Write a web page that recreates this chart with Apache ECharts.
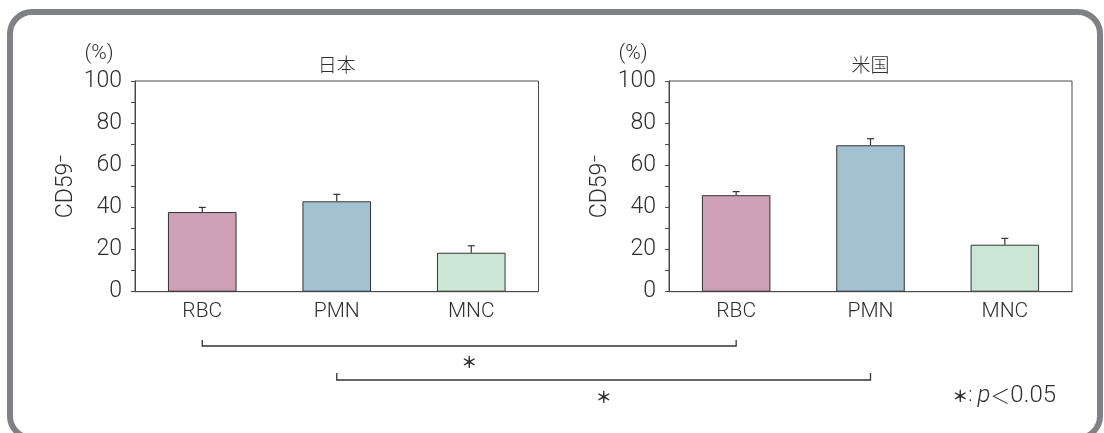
<!DOCTYPE html>
<html>
<head>
<meta charset="utf-8">
<script src="https://cdn.jsdelivr.net/npm/echarts@6/dist/echarts.min.js"></script>
<style>
  html, body { margin: 0; padding: 0; background: #fff; }
  #chart { width: 1104px; height: 433px; }
</style>
</head>
<body>
<div id="chart"></div>
<script>
// Cell types on the x axis
const categories = ['RBC', 'PMN', 'MNC'];
// CD59- cell ratio (%), mean and upper error (SD) per cell type
const japanValues = [37.8, 42.9, 18.5];
const japanErrors = [2.2, 3.3, 3.3];
const usValues = [45.8, 69.5, 22.3];
const usErrors = [1.7, 3.1, 3.0];
// Labelled y ticks (minor ticks every 10)
const yTickLabels = [0, 20, 40, 60, 80, 100];
const panelTitles = ['日本', '米国'];
const barColors = ['#cda0b5', '#a4c1d2', '#cce6d6'];

const FONT = 'Roboto, "Liberation Sans", Arial, sans-serif';
const W = 300;
const CJK = '"Noto Sans CJK JP", sans-serif';
const INK = '#2e2e2e';
const AXIS = '#4a4a4a';

const chart = echarts.init(document.getElementById('chart'), null, { renderer: 'canvas' });

const grids = [
  { left: 135, top: 81, width: 403.5, height: 210.7, show: true, borderColor: AXIS, borderWidth: 1, backgroundColor: 'transparent' },
  { left: 669, top: 81, width: 403, height: 210.7, show: true, borderColor: AXIS, borderWidth: 1, backgroundColor: 'transparent' }
];

function xAxisFor(i) {
  return {
    type: 'category', gridIndex: i, data: categories,
    axisLine: { lineStyle: { color: AXIS, width: 1 } },
    axisTick: { show: false },
    axisLabel: { color: INK, fontFamily: FONT, fontWeight: W, fontSize: 21, margin: 10 }
  };
}
function yAxisFor(i) {
  return {
    type: 'value', gridIndex: i, min: 0, max: 100, interval: 10,
    name: 'CD59⁻', nameLocation: 'middle', nameGap: 57, nameRotate: 90,
    nameTextStyle: { color: INK, fontFamily: FONT, fontWeight: W, fontSize: 23 },
    axisLine: { show: true, lineStyle: { color: AXIS, width: 1 } },
    axisTick: { show: true, inside: false, length: 4, lineStyle: { color: AXIS } },
    splitLine: { show: false },
    axisLabel: {
      color: INK, fontFamily: FONT, fontWeight: W, fontSize: 23, margin: 13,
      formatter: v => (yTickLabels.includes(v) ? String(v) : '')
    }
  };
}

function barSeries(i, values) {
  return {
    type: 'bar', xAxisIndex: i, yAxisIndex: i, barWidth: '51%',
    data: values.map((v, k) => ({ value: v, itemStyle: { color: barColors[k] } })),
    itemStyle: { borderColor: '#333', borderWidth: 1 },
    emphasis: { disabled: true }, z: 2
  };
}

function errorSeries(i, values, errors) {
  return {
    type: 'custom', xAxisIndex: i, yAxisIndex: i, z: 3,
    data: values.map((v, k) => [k, v, v + errors[k]]),
    renderItem: (params, api) => {
      const base = api.coord([api.value(0), api.value(1)]);
      const top = api.coord([api.value(0), api.value(2)]);
      const style = { stroke: '#333', lineWidth: 1.2 };
      return {
        type: 'group',
        children: [
          { type: 'line', shape: { x1: base[0], y1: base[1], x2: base[0], y2: top[1] }, style },
          { type: 'line', shape: { x1: base[0] - 3.5, y1: top[1], x2: base[0] + 3.5, y2: top[1] }, style }
        ]
      };
    }
  };
}

chart.setOption({
  animation: false,
  grid: grids,
  xAxis: [xAxisFor(0), xAxisFor(1)],
  yAxis: [yAxisFor(0), yAxisFor(1)],
  series: [
    barSeries(0, japanValues), errorSeries(0, japanValues, japanErrors),
    barSeries(1, usValues), errorSeries(1, usValues, usErrors)
  ]
});

// Annotations placed from the axes' own pixel positions
function px(axisIdx, cat) {
  return chart.convertToPixel({ xAxisIndex: axisIdx }, cat);
}
const gLeft = [135, 669];
const gCenter = [135 + 403.5 / 2, 669 + 403 / 2];

const graphics = [
  // rounded frame
  { type: 'rect', shape: { x: 10, y: 12, width: 1090, height: 426, r: 22 },
    style: { fill: 'none', stroke: '#808184', lineWidth: 6 }, z: 10 }
];

[0, 1].forEach(i => {
  graphics.push({ type: 'text', x: gLeft[i] - 36, y: 54,
    style: { text: '(%)', font: W + ' 21px ' + FONT, fill: INK, textAlign: 'center', textVerticalAlign: 'middle' } });
  graphics.push({ type: 'text', x: gCenter[i], y: 65,
    style: { text: panelTitles[i], font: '300 19px ' + CJK, fill: INK, textAlign: 'center', textVerticalAlign: 'middle' } });
});

// Significance brackets between the same cell type of both panels
const STAR = '＊';
const STAR_FONT = 'bold 16px ' + CJK;
const brackets = [
  { cat: 'RBC', y: 346, tick: 6, starY: 362 },
  { cat: 'PMN', y: 380, tick: 7, starY: 397 }
];
brackets.forEach(b => {
  const x1 = px(0, b.cat), x2 = px(1, b.cat);
  graphics.push({ type: 'polyline',
    shape: { points: [[x1, b.y - b.tick], [x1, b.y], [x2, b.y], [x2, b.y - b.tick]] },
    style: { stroke: '#333', lineWidth: 1.3, fill: 'none' } });
  graphics.push({ type: 'text', x: (x1 + x2) / 2, y: b.starY,
    style: { text: STAR, font: STAR_FONT, fill: INK, textAlign: 'center', textVerticalAlign: 'middle' } });
});

graphics.push({ type: 'text', x: 1056, y: 396,
  style: {
    text: '{s|' + STAR + '}{c|: }{p|p}{t|＜}{n|0.05}',
    textAlign: 'right', textVerticalAlign: 'middle',
    rich: {
      s: { font: STAR_FONT, fill: INK },
      c: { font: W + ' 20px ' + FONT, fill: INK },
      p: { font: 'italic ' + W + ' 24px ' + FONT, fill: INK },
      t: { font: '300 20px ' + CJK, fill: INK },
      n: { font: W + ' 24px ' + FONT, fill: INK }
    }
  } });

chart.setOption({ graphic: graphics });
</script>
</body>
</html>
